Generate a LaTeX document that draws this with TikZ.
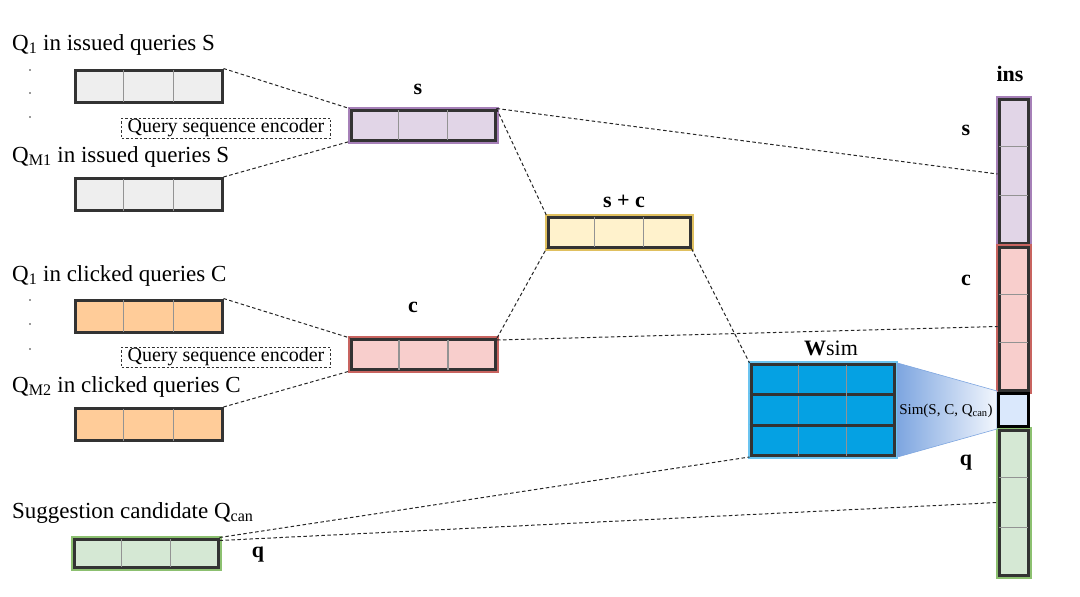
\documentclass[tikz,border=0pt]{standalone}
\usepackage{fontspec}
\setmainfont{Liberation Serif}
\usetikzlibrary{calc}
\definecolor{box-dark}{HTML}{333333}
\definecolor{fill-gray}{HTML}{EEEEEE}
\definecolor{fill-orange}{HTML}{FFCC99}
\definecolor{fill-purple}{HTML}{E1D5E7}
\definecolor{line-purple}{HTML}{A680B8}
\definecolor{fill-yellow}{HTML}{FFF2CC}
\definecolor{line-yellow}{HTML}{E0C060}
\definecolor{fill-red}{HTML}{F8CECC}
\definecolor{line-red}{HTML}{C86460}
\definecolor{fill-green}{HTML}{D5E8D4}
\definecolor{line-green}{HTML}{8CC070}
\definecolor{fill-blue}{HTML}{05A1E3}
\definecolor{line-blue}{HTML}{6CC4F0}
\definecolor{fill-sim}{HTML}{DAE8FC}
\definecolor{grad-left}{HTML}{7EA6E0}
\definecolor{grad-right}{HTML}{F2F6FD}
\begin{document}
\begin{tikzpicture}[x=1pt, y=-1pt,
    vec/.style={rectangle, minimum width=147pt, minimum height=32pt, inner sep=0pt,
                fill=#1, draw=box-dark, line width=3pt},
    col/.style={vec=#1, minimum width=29pt},
    halo/.style={preaction={draw=#1, line width=7pt}},
    cut/.style={draw=gray!85, line width=1.1pt, shorten >=1.5pt, shorten <=1.5pt},
    link/.style={dash pattern=on 3.5pt off 2.5pt, line width=1pt, black!85},
    lab/.style={font=\fontsize{23}{25}\selectfont, anchor=base west, inner sep=0pt},
    tag/.style={font=\fontsize{22}{24}\selectfont\bfseries, inner sep=0pt},
    enc/.style={draw=box-dark, dash pattern=on 2.5pt off 2pt, line width=0.9pt,
                font=\fontsize{20}{22}\selectfont,
                minimum width=209pt, minimum height=20pt, inner sep=0pt}]
  \useasboundingbox (0,0) rectangle (1080,597);
  % left inputs
  \node[lab] (lab-s1) at (12,50) {Q\textsubscript{1} in issued queries S};
  \node[lab] (lab-s2) at (12,162) {Q\textsubscript{M1} in issued queries S};
  \node[lab] (lab-c1) at (12,281) {Q\textsubscript{1} in clicked queries C};
  \node[lab] (lab-c2) at (12,392) {Q\textsubscript{M2} in clicked queries C};
  \node[lab] (lab-q) at (12,518) {Suggestion candidate Q\textsubscript{can}};
  \foreach \y in {70,93,117,300,324,349}
    \fill[black!80] (30,\y) circle (0.9);
  \node[vec=fill-gray] (s1) at (148.5,86) {};
  \node[vec=fill-gray] (s2) at (148.5,194.5) {};
  \node[vec=fill-orange] (c1) at (148.5,316) {};
  \node[vec=fill-orange] (c2) at (148.5,424.5) {};
  \node[vec=fill-green, halo=line-green, minimum width=144pt, minimum height=28pt] (q) at (146,553) {};
  \node[enc] (enc-s) at (226,128) {Query sequence encoder};
  \node[enc] (enc-c) at (226,357) {Query sequence encoder};
  % middle vectors
  \node[vec=fill-purple, halo=line-purple, minimum width=144pt, minimum height=30pt] (s) at (423,125) {};
  \node[vec=fill-yellow, halo=line-yellow, minimum width=142pt, minimum height=30pt] (sc) at (619,232) {};
  \node[vec=fill-red, halo=line-red, minimum width=144pt, minimum height=30pt] (c) at (423.5,354.5) {};
  \node[tag] (tag-s) at (418,89) {s};
  \node[tag] (tag-sc) at (624,201) {s + c};
  \node[tag] (tag-c) at (413,307) {c};
  \foreach \v in {s1,s2,c1,c2,q,s,sc,c}
    \foreach \k in {1,2}
      \draw[cut] ($(\v.north west)!\k/3!(\v.north east)$) -- ($(\v.south west)!\k/3!(\v.south east)$);
  % similarity matrix
  \node[vec=fill-blue, halo=line-blue, minimum width=143pt, minimum height=91pt] (w) at (822.5,410) {};
  \foreach \k in {1,2} {
    \draw[cut] ($(w.north west)!\k/3!(w.north east)$) -- ($(w.south west)!\k/3!(w.south east)$);
    \draw[box-dark, line width=3pt] ($(w.north west)!\k/3!(w.south west)$) -- ($(w.north east)!\k/3!(w.south east)$);
  }
  \node[font=\fontsize{22}{24}\selectfont, inner sep=0pt] (tag-w) at (831,348) {\textbf{W}sim};
  % instance column
  \node[col=fill-purple, halo=line-purple, minimum height=144pt] (ins-s) at (1013.5,171) {};
  \node[col=fill-red, halo=line-red, minimum height=143pt] (ins-c) at (1013.5,318.5) {};
  \node[col=fill-green, halo=line-green, minimum height=145pt] (ins-q) at (1013.5,502.5) {};
  \foreach \v in {ins-s,ins-c,ins-q}
    \foreach \k in {1,2}
      \draw[cut] ($(\v.north west)!\k/3!(\v.south west)$) -- ($(\v.north east)!\k/3!(\v.south east)$);
  \shade[left color=grad-left, right color=grad-right, draw=grad-left, line width=0.6pt]
    ([xshift=2pt]w.north east) -- (997,391) -- (997,429) -- ([xshift=2pt]w.south east) -- cycle;
  \node[rectangle, fill=fill-sim, draw=black, line width=3.2pt, minimum width=30pt, minimum height=33pt,
        inner sep=0pt] (sim) at (1013.5,410) {};
  \node[font=\fontsize{15}{17}\selectfont, inner sep=0pt] (lab-sim) at (946,411) {Sim(S, C, Q\textsubscript{can})};
  \node[tag] (tag-ins) at (1010,74) {ins};
  \node[tag] (tag-ins-s) at (966,130) {s};
  \node[tag] (tag-ins-c) at (966,280) {c};
  \node[tag] (tag-ins-q) at (966,463) {q};
  \node[tag] (tag-q) at (258,555) {q};
  % dashed connectors
  \draw[link] (s1.north east) -- (s.north west);
  \draw[link] (s2.north east) -- (s.south west);
  \draw[link] (c1.north east) -- (c.north west);
  \draw[link] (c2.north east) -- (c.south west);
  \draw[link] (s.north east) -- (sc.north west);
  \draw[link] (s.north east) -- ([yshift=-3pt]ins-s.west);
  \draw[link] (c.north east) -- (sc.south west);
  \draw[link] ([yshift=-2pt]c.north east) -- ([yshift=-8pt]ins-c.west);
  \draw[link] (sc.south east) -- (w.north west);
  \draw[link] (q.north east) -- (w.south west);
  \draw[link] ([yshift=-3pt]q.north east) -- (ins-q.west);
\end{tikzpicture}
\end{document}
